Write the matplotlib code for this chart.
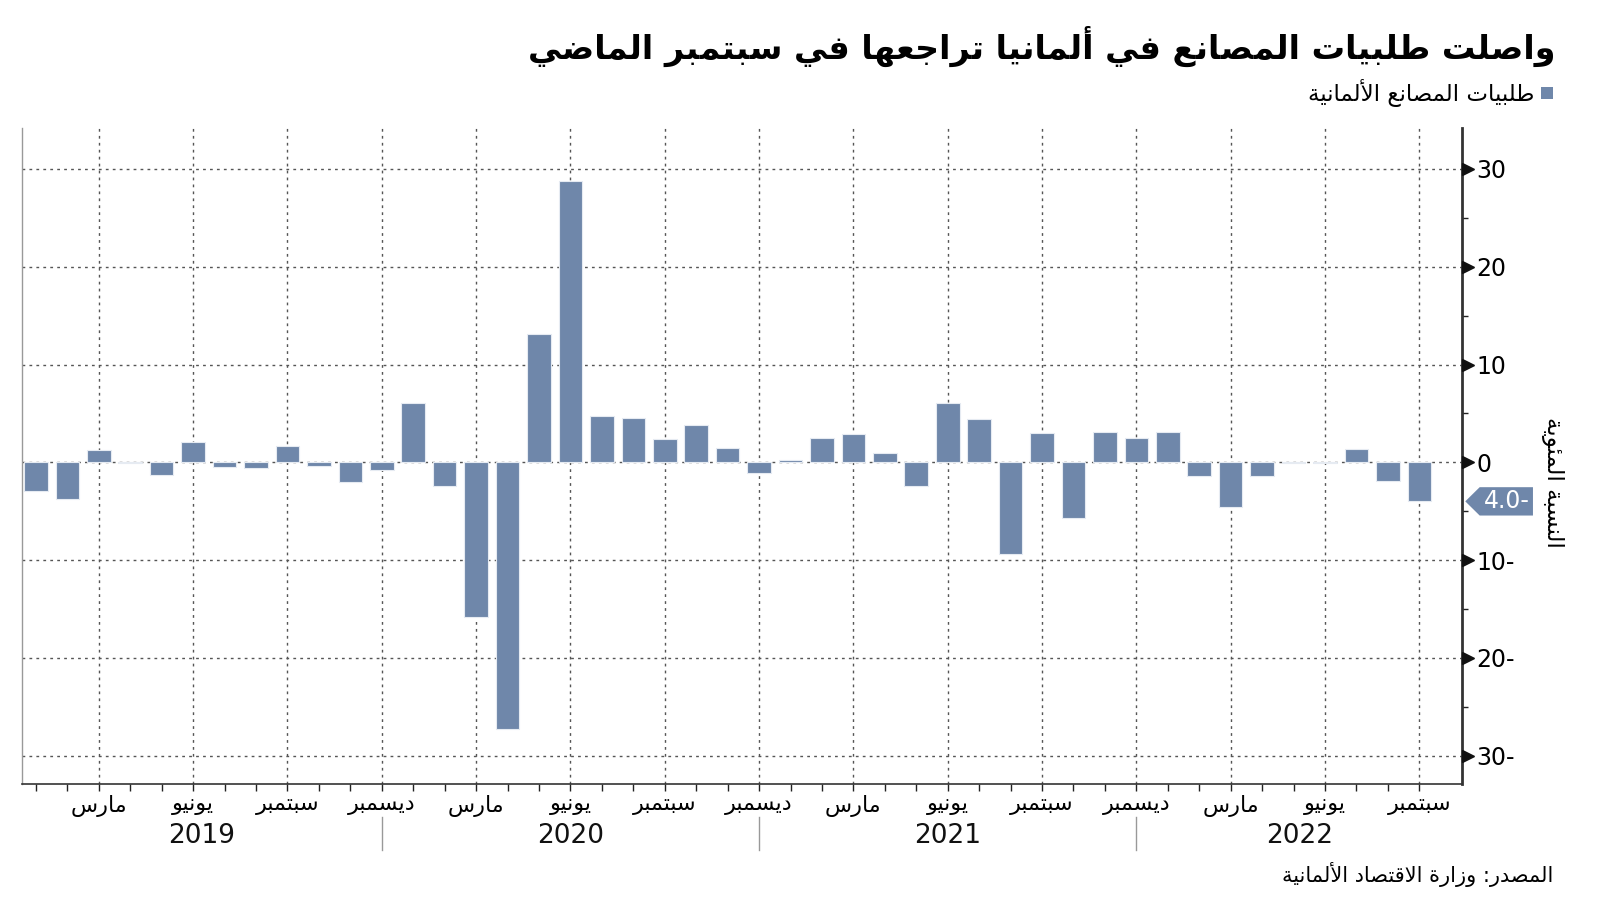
import numpy as np
import matplotlib.pyplot as plt
import matplotlib.transforms as mtransforms
from matplotlib.patches import Polygon, Rectangle

# monthly change in German factory orders, Jan 2019 .. Sep 2022 (%)
values = [
    -2.9, -3.75, 1.25, -0.1, -1.35, 2.1, -0.45, -0.6, 1.65, -0.35, -2.0, -0.75,
    6.1, -2.4, -15.8, -27.3, 13.1, 28.8, 4.7, 4.55, 2.4, 3.85, 1.45, -1.05,
    0.2, 2.5, 2.9, 0.9, -2.4, 6.1, 4.45, -9.4, 3.0, -5.75, 3.1, 2.5,
    3.1, -1.45, -4.6, -1.45, -0.1, -0.1, 1.4, -1.9, -4.0,
]
years = ["2019", "2020", "2021", "2022"]
month_names = ["مارس", "يونيو", "سبتمبر", "ديسمبر"]
ytick_vals = [-30, -20, -10, 0, 10, 20, 30]
ytick_labels = ["30-", "20-", "10-", "0", "10", "20", "30"]

title = "واصلت طلبيات المصانع في ألمانيا تراجعها في سبتمبر الماضي"
legend_label = "طلبيات المصانع الألمانية"
ylabel = "النسبة المئوية"
source = "المصدر: وزارة الاقتصاد الألمانية"

BAR = "#6f87aa"
GRID = "#555555"

# --- minimal arabic shaping (presentation forms) + RTL order ---
FORMS = {
    "\u0621": (0xFE80,), "\u0622": (0xFE81, 0xFE82), "\u0623": (0xFE83, 0xFE84),
    "\u0624": (0xFE85, 0xFE86), "\u0625": (0xFE87, 0xFE88),
    "\u0626": (0xFE89, 0xFE8A, 0xFE8B, 0xFE8C), "\u0627": (0xFE8D, 0xFE8E),
    "\u0628": (0xFE8F, 0xFE90, 0xFE91, 0xFE92), "\u0629": (0xFE93, 0xFE94),
    "\u062A": (0xFE95, 0xFE96, 0xFE97, 0xFE98), "\u062B": (0xFE99, 0xFE9A, 0xFE9B, 0xFE9C),
    "\u062C": (0xFE9D, 0xFE9E, 0xFE9F, 0xFEA0), "\u062D": (0xFEA1, 0xFEA2, 0xFEA3, 0xFEA4),
    "\u062E": (0xFEA5, 0xFEA6, 0xFEA7, 0xFEA8), "\u062F": (0xFEA9, 0xFEAA),
    "\u0630": (0xFEAB, 0xFEAC), "\u0631": (0xFEAD, 0xFEAE), "\u0632": (0xFEAF, 0xFEB0),
    "\u0633": (0xFEB1, 0xFEB2, 0xFEB3, 0xFEB4), "\u0634": (0xFEB5, 0xFEB6, 0xFEB7, 0xFEB8),
    "\u0635": (0xFEB9, 0xFEBA, 0xFEBB, 0xFEBC), "\u0636": (0xFEBD, 0xFEBE, 0xFEBF, 0xFEC0),
    "\u0637": (0xFEC1, 0xFEC2, 0xFEC3, 0xFEC4), "\u0638": (0xFEC5, 0xFEC6, 0xFEC7, 0xFEC8),
    "\u0639": (0xFEC9, 0xFECA, 0xFECB, 0xFECC), "\u063A": (0xFECD, 0xFECE, 0xFECF, 0xFED0),
    "\u0641": (0xFED1, 0xFED2, 0xFED3, 0xFED4), "\u0642": (0xFED5, 0xFED6, 0xFED7, 0xFED8),
    "\u0643": (0xFED9, 0xFEDA, 0xFEDB, 0xFEDC), "\u0644": (0xFEDD, 0xFEDE, 0xFEDF, 0xFEE0),
    "\u0645": (0xFEE1, 0xFEE2, 0xFEE3, 0xFEE4), "\u0646": (0xFEE5, 0xFEE6, 0xFEE7, 0xFEE8),
    "\u0647": (0xFEE9, 0xFEEA, 0xFEEB, 0xFEEC), "\u0648": (0xFEED, 0xFEEE),
    "\u0649": (0xFEEF, 0xFEF0), "\u064A": (0xFEF1, 0xFEF2, 0xFEF3, 0xFEF4),
}
LAM_ALEF = {"\u0622": (0xFEF5, 0xFEF6), "\u0623": (0xFEF7, 0xFEF8),
            "\u0625": (0xFEF9, 0xFEFA), "\u0627": (0xFEFB, 0xFEFC)}


def ar(text):
    tokens = []
    i = 0
    while i < len(text):
        c = text[i]
        if c == "\u0644" and i + 1 < len(text) and text[i + 1] in LAM_ALEF:
            tokens.append((c, LAM_ALEF[text[i + 1]]))
            i += 2
        else:
            tokens.append((c, FORMS.get(c)))
            i += 1
    out = []
    for k, (c, f) in enumerate(tokens):
        if f is None:
            out.append(c)
            continue
        prev = tokens[k - 1][1] if k > 0 else None
        nxt = tokens[k + 1][1] if k + 1 < len(tokens) else None
        jp = prev is not None and len(prev) == 4 and len(f) >= 2
        jn = len(f) == 4 and nxt is not None and len(nxt) >= 2
        if jp and jn:
            out.append(chr(f[3]))
        elif jp:
            out.append(chr(f[1]))
        elif jn:
            out.append(chr(f[2]))
        else:
            out.append(chr(f[0]))
    return "".join(reversed(out))


plt.rcParams["font.family"] = ["DejaVu Sans"]

fig = plt.figure(figsize=(16, 9.01), dpi=100)
ax = fig.add_axes([0.014, 0.130, 0.900, 0.728])

x = np.arange(len(values))
ax.bar(x, values, width=0.75, color=BAR, edgecolor="#e6ebf2", linewidth=0.8, zorder=3)

ax.set_xlim(-0.43, len(values) - 1 + 1.37)
ax.set_ylim(-32.9, 34.2)

# grid
quarter_pos = [i for i in x if i % 3 == 2]
ax.set_xticks(quarter_pos)
ax.set_xticklabels([ar(month_names[(i // 3) % 4]) for i in quarter_pos], fontsize=16)
ax.set_xticks(x, minor=True)
ax.tick_params(axis="x", which="both", length=5, width=1, color="#222", direction="out", pad=3)
ax.grid(axis="x", which="major", linestyle=(0, (2, 3)), color=GRID, lw=1)

ax.yaxis.tick_right()
ax.set_yticks(ytick_vals)
ax.set_yticklabels(ytick_labels, fontsize=17)
ax.set_yticks([-25, -15, -5, 5, 15, 25], minor=True)
ax.tick_params(axis="y", which="major", length=0, pad=10)
ax.tick_params(axis="y", which="minor", length=4, width=1, color="#222")
ax.grid(axis="y", which="major", linestyle=(0, (2, 3)), color=GRID, lw=1)
ax.set_axisbelow(True)

ytrans = mtransforms.blended_transform_factory(ax.transAxes, ax.transData)
tri_trans = ytrans + mtransforms.ScaledTranslation(4 / 72, 0, fig.dpi_scale_trans)
ax.plot([1.0] * len(ytick_vals), ytick_vals, marker=">", ls="none", ms=8,
        color="#111", transform=tri_trans, clip_on=False, zorder=5)

ax.spines["top"].set_visible(False)
ax.spines["left"].set_color("#999")
ax.spines["left"].set_linewidth(1)
ax.spines["bottom"].set_color("#333")
ax.spines["bottom"].set_linewidth(1.2)
ax.spines["right"].set_color("#333")
ax.spines["right"].set_linewidth(2)

# years and separators
xtrans = mtransforms.blended_transform_factory(ax.transData, ax.transAxes)
seps = [11, 23, 35]
for s in seps:
    ax.plot([s, s], [-0.05, -0.101], color="#999", lw=1, transform=xtrans, clip_on=False)
bounds = [ax.get_xlim()[0]] + seps + [ax.get_xlim()[1]]
for i, yr in enumerate(years):
    ax.text((bounds[i] + bounds[i + 1]) / 2, -0.08, yr, transform=xtrans,
            ha="center", va="center", fontsize=19, color="#111")

# last value tag
last = values[-1]
tag = Polygon([[1.002, last], [1.012, last + 1.45], [1.049, last + 1.45],
               [1.049, last - 1.45], [1.012, last - 1.45]],
              closed=True, transform=ytrans, facecolor=BAR, edgecolor="none",
              clip_on=False, zorder=6)
ax.add_patch(tag)
ax.text(1.031, last, f"{abs(last):.1f}-" if last < 0 else f"{last:.1f}",
        transform=ytrans, ha="center", va="center", color="white", fontsize=17, zorder=7)

fig.text(0.9706, 0.465, ar(ylabel), rotation=270, ha="center", va="center", fontsize=16.5)

# title, legend, source
fig.text(0.9725, 0.9345, ar(title), ha="right", va="baseline",
         fontsize=24, fontweight="bold")

fig.patches.append(Rectangle((0.963, 0.890), 0.0075, 0.0133, transform=fig.transFigure,
                             facecolor=BAR, edgecolor="none"))
fig.text(0.959, 0.8968, ar(legend_label), ha="right", va="center", fontsize=16.5)

fig.text(0.9706, 0.029, ar(source), ha="right", va="center", fontsize=15)

fig.savefig("out.png", dpi=100)
